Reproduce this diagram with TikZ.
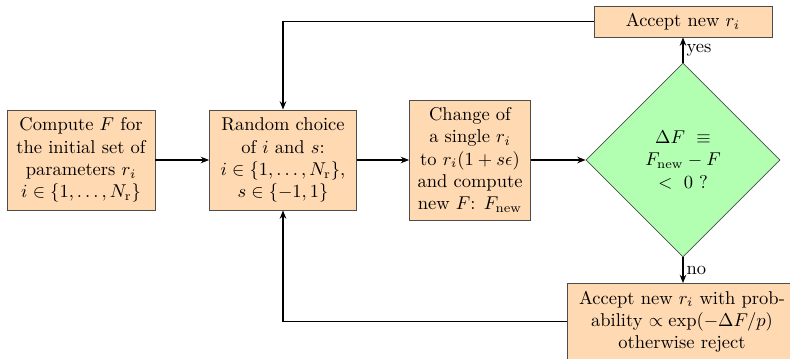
\documentclass[tikz,border=0pt]{standalone}
\usetikzlibrary{shapes.geometric,arrows.meta}
\def\pxu{0.54pt}
\begin{document}
\begin{tikzpicture}[x=0.54pt,y=-0.54pt,
  box/.style={draw=black!70, fill=orange!30, align=center, inner sep=1pt},
  dec/.style={diamond, draw=black!70, fill=green!30, align=center, inner sep=0pt,
    minimum width={194*\pxu}, minimum height={194*\pxu}},
  conn/.style={thick, -{Stealth[length=4.5pt,width=3.5pt]}},
  lab/.style={inner sep=1.5pt}]
\useasboundingbox (0,0) rectangle (790,358);
\node[box, minimum width={148*\pxu}, minimum height={100*\pxu}] (init) at (81,160)
  {Compute $F$ for\\the initial set of\\parameters $r_i$\\$i\in\{1,\ldots,N_{\mathrm{r}}\}$};
\node[box, minimum width={147*\pxu}, minimum height={100*\pxu}] (rand) at (283,160)
  {Random choice\\of $i$ and $s$:\\$i\in\{1,\ldots,N_{\mathrm{r}}\}$,\\$s\in\{-1,1\}$};
\node[box, minimum width={121*\pxu}, minimum height={120*\pxu}] (change) at (470,160)
  {Change of\\a single $r_i$\\to $r_i(1+s\epsilon)$\\and compute\\new $F$: $F_{\mathrm{new}}$};
\node[dec] (dec) at (683,160) {$\Delta F\ \equiv$\\$F_{\mathrm{new}}-F$\\$<\ 0\ ?$};
\node[box, minimum width={178*\pxu}, minimum height={31*\pxu}] (acc) at (683,21.5)
  {Accept new $r_i$};
\node[box, minimum width={230*\pxu}, minimum height={76*\pxu}] (prob) at (682,321.5)
  {Accept new $r_i$ with prob-\\ability $\propto\exp(-\Delta F/p)$\\otherwise reject};
\draw[conn] (init) -- (rand);
\draw[conn] (rand) -- (change);
\draw[conn] (change) -- (dec);
\draw[conn] (dec) -- node[right,lab]{yes} (acc);
\draw[conn] (dec) -- node[right,lab]{no} (dec |- prob.north);
\draw[conn] (acc.west) -| (rand.north);
\draw[conn] (prob.west) -| (rand.south);
\end{tikzpicture}
\end{document}
